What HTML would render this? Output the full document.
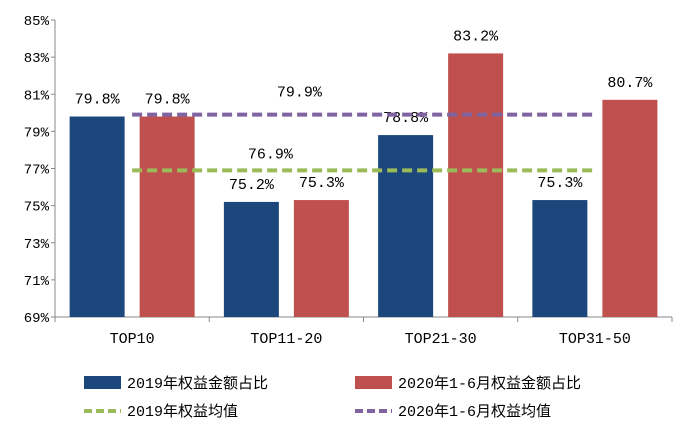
<!DOCTYPE html>
<html><head><meta charset="utf-8"><style>
body{margin:0;background:#fff}
svg{display:block}
text{font-family:"Liberation Mono","Noto Sans CJK SC",monospace;fill:#000}
</style></head><body>
<svg id="c" width="683" height="430"></svg>
<script>
const categories=["TOP10","TOP11-20","TOP21-30","TOP31-50"];
const values2019=[79.8,75.2,78.8,75.3];
const values2020=[79.8,75.3,83.2,80.7];
const avg2019=76.9;
const avg2020=79.9;
const yTicks=[69,71,73,75,77,79,81,83,85];
const NS="http://www.w3.org/2000/svg";
const svg=document.getElementById('c');
const x0=55,x1=672,yTop=20,yBot=317,yMin=69,yMax=85;
const cw=(x1-x0)/categories.length;
const y=v=>yBot-(v-yMin)/(yMax-yMin)*(yBot-yTop);
const cx=i=>x0+cw*(i+0.5);
function el(t,a,txt){const e=document.createElementNS(NS,t);for(const k in a)e.setAttribute(k,a[k]);if(txt!==undefined)e.textContent=txt;svg.appendChild(e);return e;}
let e;
e=el('line',{x1:x0,y1:yTop,x2:x0,y2:yBot,stroke:'#888'});


e=el('line',{x1:x0,y1:yBot,x2:x1,y2:yBot,stroke:'#888'});


yTicks.forEach(t=>{
  e=el('line',{x1:x0-4,y1:y(t),x2:x0,y2:y(t),stroke:'#888'});
  
  
  e=el('text',{x:x0-6,y:y(t)+5,'text-anchor':'end','font-size':14},t+'%');
  
  
});
for(let i=0;i<=categories.length;i++){
  e=el('line',{x1:x0+cw*i,y1:yBot,x2:x0+cw*i,y2:yBot+5,stroke:'#888'});
  
  
}
const bw=55,gap=15;
categories.forEach((c,i)=>{
  const bx=cx(i)-gap/2-bw, rx=cx(i)+gap/2;
  e=el('rect',{x:bx,y:y(values2019[i]),width:bw,height:yBot-y(values2019[i]),fill:'#1b477d'});
  
  
  e=el('rect',{x:rx,y:y(values2020[i]),width:bw,height:yBot-y(values2020[i]),fill:'#c0504d'});
  
  
  e=el('text',{x:bx+bw/2,y:y(values2019[i])-13,'text-anchor':'middle','font-size':15},values2019[i].toFixed(1)+'%');
  
  
  e=el('text',{x:rx+bw/2,y:y(values2020[i])-13,'text-anchor':'middle','font-size':15},values2020[i].toFixed(1)+'%');
  
  
  e=el('text',{x:cx(i),y:343,'text-anchor':'middle','font-size':15},c);
  
  
});
e=el('line',{x1:cx(0),y1:y(avg2020),x2:cx(3),y2:y(avg2020),stroke:'#8064a2','stroke-width':4,'stroke-dasharray':'10,5'});


e=el('text',{x:cx(1)+13,y:y(avg2020)-18,'text-anchor':'middle','font-size':15},avg2020.toFixed(1)+'%');


e=el('line',{x1:cx(0),y1:y(avg2019),x2:cx(3),y2:y(avg2019),stroke:'#9bbb59','stroke-width':4,'stroke-dasharray':'10,5'});


e=el('text',{x:cx(1)-16,y:y(avg2019)-12,'text-anchor':'middle','font-size':15},avg2019.toFixed(1)+'%');


// legend
e=el('rect',{x:84,y:376,width:37,height:13,fill:'#1b477d'});


e=el('text',{x:127,y:388,'font-size':15},'2019年权益金额占比');


e=el('rect',{x:355,y:376,width:37,height:13,fill:'#c0504d'});


e=el('text',{x:398,y:388,'font-size':15},'2020年1-6月权益金额占比');


e=el('line',{x1:84,y1:411,x2:121,y2:411,stroke:'#9bbb59','stroke-width':4,'stroke-dasharray':'8,4'});


e=el('text',{x:127,y:416,'font-size':15},'2019年权益均值');


e=el('line',{x1:355,y1:411,x2:392,y2:411,stroke:'#8064a2','stroke-width':4,'stroke-dasharray':'8,4'});


e=el('text',{x:398,y:416,'font-size':15},'2020年1-6月权益均值');


</script>
</body></html>
